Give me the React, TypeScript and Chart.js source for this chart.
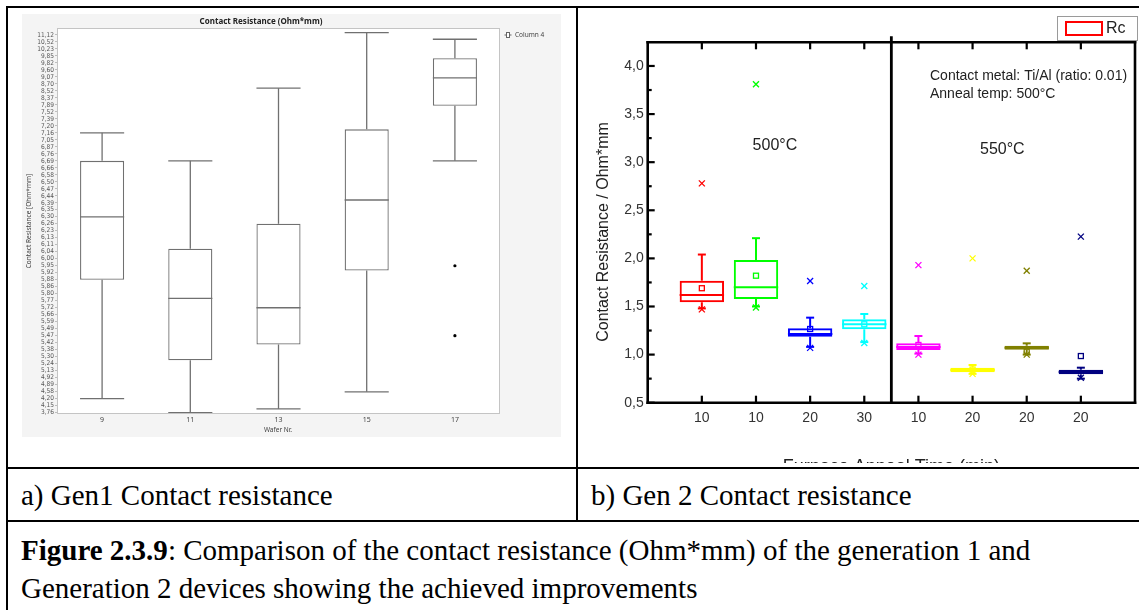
import React, { useEffect, useRef } from 'react';
import { Chart, registerables } from 'chart.js';

Chart.register(...registerables);

// ---------------- Gen 1 (left panel) ----------------
const G1_Y_LABELS = ['11,12','10,52','10,23','9,85','9,82','9,60','9,07','8,70','8,52','8,37','7,89','7,52','7,39','7,20','7,16','7,05','6,87','6,76','6,69','6,66','6,58','6,50','6,47','6,44','6,39','6,35','6,30','6,26','6,23','6,13','6,11','6,04','6,00','5,95','5,92','5,88','5,86','5,80','5,77','5,72','5,66','5,59','5,49','5,47','5,42','5,38','5,30','5,24','5,13','4,92','4,89','4,58','4,20','4,15','3,76'];
const G1_WAFERS = ['9', '11', '13', '15', '17'];
const G1_WHISKER_LO = [4.20, 3.76, 3.97, 4.57, 6.69];
const G1_Q1 = [5.88, 5.27, 5.41, 5.93, 7.84];
const G1_MEDIAN = [6.30, 5.78, 5.72, 6.41, 9.02];
const G1_Q3 = [6.69, 6.07, 6.26, 7.18, 9.84];
const G1_WHISKER_HI = [7.16, 6.69, 8.59, 11.32, 10.75];
const G1_OUTLIER_WAFER = [4, 4];
const G1_OUTLIER_VALUE = [5.95, 5.47];

// ---------------- Gen 2 (right panel) ----------------
const G2_TIMES = ['10', '10', '20', '30', '10', '20', '20', '20'];
const G2_COLORS = ['#ff0000', '#00ff00', '#0000ff', '#00ffff', '#ff00ff', '#ffff00', '#808000', '#000080'];
const G2_Q1 = [1.544, 1.578, 1.186, 1.263, 1.048, 0.816, 1.051, 0.795];
const G2_MEDIAN = [1.62, 1.70, 1.214, 1.315, 1.08, 0.84, 1.07, 0.82];
const G2_Q3 = [1.768, 1.983, 1.273, 1.367, 1.117, 0.864, 1.092, 0.843];
const G2_WHISKER_LO = [1.48, 1.50, 1.08, 1.13, 1.01, 0.80, 1.00, 0.75];
const G2_WHISKER_HI = [2.04, 2.21, 1.384, 1.422, 1.193, 0.892, 1.117, 0.864];
const G2_MEAN = [1.69, 1.82, 1.266, 1.315, 1.10, 0.845, 1.03, 0.985];
const G2_MIN = [1.47, 1.49, 1.07, 1.12, 1.00, 0.80, 1.00, 0.76];
const G2_MAX = [2.78, 3.81, 1.765, 1.713, 1.93, 2.00, 1.872, 2.226];
const G2_Y_MAJOR = [0.5, 1.0, 1.5, 2.0, 2.5, 3.0, 3.5, 4.0];
const G2_Y_MINOR = [0.75, 1.25, 1.75, 2.25, 2.75, 3.25, 3.75];

const FONT_UI = "'Noto Sans', 'Open Sans', sans-serif";
const FONT_NARROW = "'Liberation Sans Narrow', 'DejaVu Sans Condensed', 'Noto Sans', sans-serif";
const FONT_ARIAL = "'Liberation Sans', Arial, sans-serif";
const FONT_TIMES = "'Liberation Serif', 'Times New Roman', serif";

const G1_VALUES = G1_Y_LABELS.map((s) => parseFloat(s.replace(',', '.')));

// position on the (ordinal, value-listed) Gen1 axis; piecewise linear between listed values
function g1Pos(v: number): number {
  const a = G1_VALUES;
  if (v >= a[0]) return (a[0] - v) / (a[0] - a[1]);
  for (let i = 0; i < a.length - 1; i++) {
    if (v <= a[i] && v >= a[i + 1]) return i + (a[i] - v) / (a[i] - a[i + 1]);
  }
  const n = a.length - 1;
  return n + (a[n] - v) / (a[n - 1] - a[n]);
}

function seg(ctx: CanvasRenderingContext2D, x1: number, y1: number, x2: number, y2: number) {
  ctx.beginPath();
  ctx.moveTo(x1, y1);
  ctx.lineTo(x2, y2);
  ctx.stroke();
}

const g1Plugin = {
  id: 'g1deco',
  beforeDraw(chart: any) {
    const { ctx, chartArea: a } = chart;
    ctx.save();
    ctx.fillStyle = '#f4f4f4';
    ctx.fillRect(0, 0, chart.width, chart.height);
    ctx.fillStyle = '#ffffff';
    ctx.fillRect(a.left, a.top, a.right - a.left, a.bottom - a.top);
    ctx.restore();
  },
  afterDatasetsDraw(chart: any) {
    const { ctx } = chart;
    const x = chart.scales.x;
    const y = chart.scales.y;
    const meta = chart.getDatasetMeta(0);
    ctx.save();
    ctx.strokeStyle = '#707070';
    ctx.lineWidth = 1.3;
    G1_WAFERS.forEach((_, i) => {
      const cx = x.getPixelForValue(i);
      const half = meta.data[i].width / 2;
      const yq1 = y.getPixelForValue(g1Pos(G1_Q1[i]));
      const yq3 = y.getPixelForValue(g1Pos(G1_Q3[i]));
      const ymed = y.getPixelForValue(g1Pos(G1_MEDIAN[i]));
      const ylo = y.getPixelForValue(g1Pos(G1_WHISKER_LO[i]));
      const yhi = y.getPixelForValue(g1Pos(G1_WHISKER_HI[i]));
      seg(ctx, cx - half, ymed, cx + half, ymed);
      seg(ctx, cx, yq3, cx, yhi);
      seg(ctx, cx, yq1, cx, ylo);
      seg(ctx, cx - half, yhi, cx + half, yhi);
      seg(ctx, cx - half, ylo, cx + half, ylo);
    });
    ctx.fillStyle = '#000';
    G1_OUTLIER_VALUE.forEach((v, k) => {
      const cx = x.getPixelForValue(G1_OUTLIER_WAFER[k]);
      const cy = y.getPixelForValue(g1Pos(v));
      ctx.beginPath();
      ctx.arc(cx, cy, 1.6, 0, Math.PI * 2);
      ctx.fill();
    });
    ctx.restore();
  },
  afterDraw(chart: any) {
    const { ctx, chartArea: a } = chart;
    ctx.save();
    ctx.strokeStyle = '#c4c4c4';
    ctx.lineWidth = 1;
    ctx.strokeRect(a.left - 0.5, a.top - 0.5, a.right - a.left + 1, a.bottom - a.top + 1);
    // title
    ctx.fillStyle = '#222';
    ctx.font = `bold 8px ${FONT_UI}`;
    ctx.textAlign = 'center';
    ctx.textBaseline = 'middle';
    ctx.fillText('Contact Resistance (Ohm*mm)', 239, 7.5);
    // x title
    ctx.fillStyle = '#444';
    ctx.font = `6.5px ${FONT_UI}`;
    ctx.fillText('Wafer Nr.', 256, 416);
    // y title
    ctx.save();
    ctx.translate(7.5, 207);
    ctx.rotate(-Math.PI / 2);
    ctx.fillText('Contact Resistance [Ohm*mm]', 0, 0);
    ctx.restore();
    // legend
    ctx.strokeStyle = '#666';
    ctx.lineWidth = 1;
    seg(ctx, 482.5, 21, 489.5, 21);
    ctx.fillStyle = '#fff';
    ctx.fillRect(484.5, 18.5, 3, 5);
    ctx.strokeRect(484.5, 18.5, 3, 5);
    ctx.fillStyle = '#444';
    ctx.textAlign = 'left';
    ctx.font = `6.5px ${FONT_UI}`;
    ctx.fillText('Column 4', 493, 21);
    ctx.restore();
  },
};

const g2Plugin = {
  id: 'g2deco',
  beforeDraw(chart: any) {
    const { ctx } = chart;
    ctx.save();
    ctx.fillStyle = '#ffffff';
    ctx.fillRect(0, 0, chart.width, chart.height);
    ctx.restore();
  },
  afterDatasetsDraw(chart: any) {
    const { ctx } = chart;
    const x = chart.scales.x;
    const y = chart.scales.y;
    const meta = chart.getDatasetMeta(0);
    ctx.save();
    G2_TIMES.forEach((_, i) => {
      const cx = x.getPixelForValue(i + 1);
      const half = meta.data[i].width / 2;
      ctx.strokeStyle = G2_COLORS[i];
      ctx.lineWidth = 2;
      const ymed = y.getPixelForValue(G2_MEDIAN[i]);
      const yq1 = y.getPixelForValue(G2_Q1[i]);
      const yq3 = y.getPixelForValue(G2_Q3[i]);
      const ylo = y.getPixelForValue(G2_WHISKER_LO[i]);
      const yhi = y.getPixelForValue(G2_WHISKER_HI[i]);
      seg(ctx, cx - half, ymed, cx + half, ymed);
      seg(ctx, cx, yq3, cx, yhi);
      seg(ctx, cx, yq1, cx, ylo);
      seg(ctx, cx - 4, yhi, cx + 4, yhi);
      seg(ctx, cx - 4, ylo, cx + 4, ylo);
      ctx.lineWidth = 1.3;
      const ym = y.getPixelForValue(G2_MEAN[i]);
      ctx.strokeRect(cx - 2.5, ym - 2.5, 5, 5);
      [G2_MIN[i], G2_MAX[i]].forEach((v) => {
        const yy = y.getPixelForValue(v);
        seg(ctx, cx - 3, yy - 3, cx + 3, yy + 3);
        seg(ctx, cx - 3, yy + 3, cx + 3, yy - 3);
      });
    });
    ctx.restore();
  },
  afterDraw(chart: any) {
    const { ctx, chartArea: a } = chart;
    const x = chart.scales.x;
    const y = chart.scales.y;
    ctx.save();
    ctx.strokeStyle = '#000';
    ctx.lineWidth = 2.6;
    ctx.lineCap = 'square';
    seg(ctx, a.left, a.top, a.right, a.top);
    seg(ctx, a.left, a.bottom, a.right, a.bottom);
    seg(ctx, a.left, a.top, a.left, a.bottom);
    seg(ctx, a.right, a.top, a.right, a.bottom);
    ctx.lineCap = 'butt';
    ctx.lineWidth = 2.2;
    G2_Y_MAJOR.forEach((v) => {
      const yy = y.getPixelForValue(v);
      seg(ctx, a.left, yy, a.left + 7, yy);
    });
    G2_Y_MINOR.forEach((v) => {
      const yy = y.getPixelForValue(v);
      seg(ctx, a.left, yy, a.left + 4, yy);
    });
    G2_TIMES.forEach((_, i) => {
      const xx = x.getPixelForValue(i + 1);
      seg(ctx, xx, a.top, xx, a.top + 7);
      seg(ctx, xx, a.bottom, xx, a.bottom - 7);
    });
    // divider between anneal temperatures
    ctx.lineWidth = 2.8;
    const xd = x.getPixelForValue(4.5);
    seg(ctx, xd, a.top - 6, xd, a.bottom);
    // annotations
    ctx.fillStyle = '#222';
    ctx.textBaseline = 'middle';
    ctx.textAlign = 'center';
    ctx.font = `16px ${FONT_ARIAL}`;
    ctx.fillText('500°C', x.getPixelForValue(2.35), 138);
    ctx.fillText('550°C', x.getPixelForValue(6.55), 142);
    ctx.textAlign = 'left';
    ctx.font = `14px ${FONT_ARIAL}`;
    ctx.fillText('Contact metal: Ti/Al (ratio: 0.01)', 352, 68.5);
    ctx.fillText('Anneal temp: 500°C', 352, 86);
    // y title
    ctx.save();
    ctx.translate(26, 224);
    ctx.rotate(-Math.PI / 2);
    ctx.textAlign = 'center';
    ctx.font = `16px ${FONT_ARIAL}`;
    ctx.fillText('Contact Resistance / Ohm*mm', 0, 0);
    ctx.restore();
    // x title (cut off by the cell border)
    ctx.textAlign = 'center';
    ctx.textBaseline = 'alphabetic';
    ctx.font = `18px ${FONT_ARIAL}`;
    ctx.fillText('Furnace Anneal Time (min)', (a.left + a.right) / 2, 464);
    // legend
    ctx.fillStyle = '#fff';
    ctx.fillRect(479.5, 8.5, 80, 24);
    ctx.strokeStyle = '#9a9a9a';
    ctx.lineWidth = 1;
    ctx.strokeRect(479.5, 8.5, 80, 24);
    ctx.strokeStyle = '#ff0000';
    ctx.lineWidth = 2;
    ctx.strokeRect(488, 14, 36, 13);
    ctx.fillStyle = '#222';
    ctx.textBaseline = 'middle';
    ctx.textAlign = 'left';
    ctx.font = `16px ${FONT_ARIAL}`;
    ctx.fillText('Rc', 528, 20.5);
    ctx.restore();
  },
};

function GenOneChart() {
  const ref = useRef<HTMLCanvasElement | null>(null);
  useEffect(() => {
    if (!ref.current) return;
    const chart = new Chart(ref.current, {
      type: 'bar',
      data: {
        labels: G1_WAFERS,
        datasets: [
          {
            data: G1_WAFERS.map((_, i) => [g1Pos(G1_Q1[i]), g1Pos(G1_Q3[i])]) as any,
            backgroundColor: '#ffffff',
            borderColor: '#707070',
            borderWidth: 1.3,
            borderSkipped: false,
            barPercentage: 0.5,
            categoryPercentage: 1,
          },
        ],
      },
      options: {
        animation: false,
        responsive: false,
        maintainAspectRatio: false,
        layout: { padding: { top: 15, right: 62, left: 0, bottom: 0 } },
        plugins: { legend: { display: false }, tooltip: { enabled: false }, title: { display: false } },
        scales: {
          x: {
            grid: { display: false, drawTicks: false },
            border: { display: false },
            ticks: { font: { size: 7, family: FONT_UI }, color: '#444', padding: 3 },
            afterFit: (s: any) => { s.height = 24; },
          },
          y: {
            type: 'linear',
            reverse: true,
            min: -0.85,
            max: 54.05,
            afterBuildTicks: (s: any) => { s.ticks = G1_Y_LABELS.map((_, i) => ({ value: i })); },
            ticks: {
              autoSkip: false,
              callback: (v: any) => G1_Y_LABELS[v as number] ?? '',
              font: { size: 6.5, family: FONT_NARROW },
              color: '#555',
              padding: 1,
            },
            grid: { drawOnChartArea: false, drawTicks: true, tickLength: 3, color: '#bdbdbd' },
            border: { display: false },
            afterFit: (s: any) => { s.width = 36; },
          },
        },
      } as any,
      plugins: [g1Plugin],
    });
    return () => chart.destroy();
  }, []);
  return <canvas ref={ref} width={539} height={423} style={{ display: 'block' }} />;
}

function GenTwoChart() {
  const ref = useRef<HTMLCanvasElement | null>(null);
  useEffect(() => {
    if (!ref.current) return;
    const chart = new Chart(ref.current, {
      type: 'bar',
      data: {
        datasets: [
          {
            data: G2_TIMES.map((_, i) => ({ x: i + 1, y: [G2_Q1[i], G2_Q3[i]] })) as any,
            backgroundColor: 'rgba(0,0,0,0)',
            borderColor: G2_COLORS,
            borderWidth: 2,
            borderSkipped: false,
            barPercentage: 0.82,
            categoryPercentage: 1,
          },
        ],
      },
      options: {
        animation: false,
        responsive: false,
        maintainAspectRatio: false,
        layout: { padding: { top: 34.3, right: 4, left: 0, bottom: 0 } },
        plugins: { legend: { display: false }, tooltip: { enabled: false }, title: { display: false } },
        scales: {
          x: {
            type: 'linear',
            offset: false,
            min: 0,
            max: 9,
            afterBuildTicks: (s: any) => { s.ticks = G2_TIMES.map((_, i) => ({ value: i + 1 })); },
            ticks: {
              autoSkip: false,
              callback: (v: any) => G2_TIMES[(v as number) - 1] ?? '',
              font: { size: 14, family: FONT_ARIAL },
              color: '#333',
              padding: 7,
              maxRotation: 0,
            },
            grid: { display: false, drawTicks: false },
            border: { display: false },
            afterFit: (s: any) => { s.height = 60.3; },
          },
          y: {
            min: 0.5,
            max: 4.246,
            afterBuildTicks: (s: any) => { s.ticks = G2_Y_MAJOR.map((v) => ({ value: v })); },
            ticks: {
              autoSkip: false,
              callback: (v: any) => (v as number).toFixed(1).replace('.', ','),
              font: { size: 14, family: FONT_ARIAL },
              color: '#333',
              padding: 4,
            },
            grid: { display: false, drawTicks: false },
            border: { display: false },
            afterFit: (s: any) => { s.width = 69.7; },
          },
        },
      } as any,
      plugins: [g2Plugin],
    });
    return () => chart.destroy();
  }, []);
  return <canvas ref={ref} width={561} height={455} style={{ display: 'block' }} />;
}

const line = (left: number, top: number, width: number, height: number): React.CSSProperties => ({
  position: 'absolute', left, top, width, height, background: '#000',
});

export default function App() {
  const txt: React.CSSProperties = {
    position: 'absolute', fontFamily: FONT_TIMES, fontSize: 29, lineHeight: '29px', color: '#000', whiteSpace: 'nowrap',
  };
  return (
    <div style={{ position: 'absolute', left: 0, top: 0, width: 1139, height: 610, background: '#fff', overflow: 'hidden' }}>
      <div style={{ position: 'absolute', left: 22, top: 14 }}>
        <GenOneChart />
      </div>
      <div style={{ position: 'absolute', left: 578, top: 8 }}>
        <GenTwoChart />
      </div>
      <div style={line(6, 6, 1133, 2)} />
      <div style={line(6, 6, 2, 604)} />
      <div style={line(576, 6, 2, 516)} />
      <div style={line(6, 467, 1133, 2)} />
      <div style={line(6, 520, 1133, 2)} />
      <div style={{ ...txt, left: 21, top: 481 }}>a) Gen1 Contact resistance</div>
      <div style={{ ...txt, left: 591, top: 481 }}>b) Gen 2 Contact resistance</div>
      <div style={{ ...txt, left: 21, top: 536 }}>
        <b>Figure 2.3.9</b>: Comparison of the contact resistance (Ohm*mm) of the generation 1 and
      </div>
      <div style={{ ...txt, left: 21, top: 574 }}>Generation 2 devices showing the achieved improvements</div>
    </div>
  );
}
